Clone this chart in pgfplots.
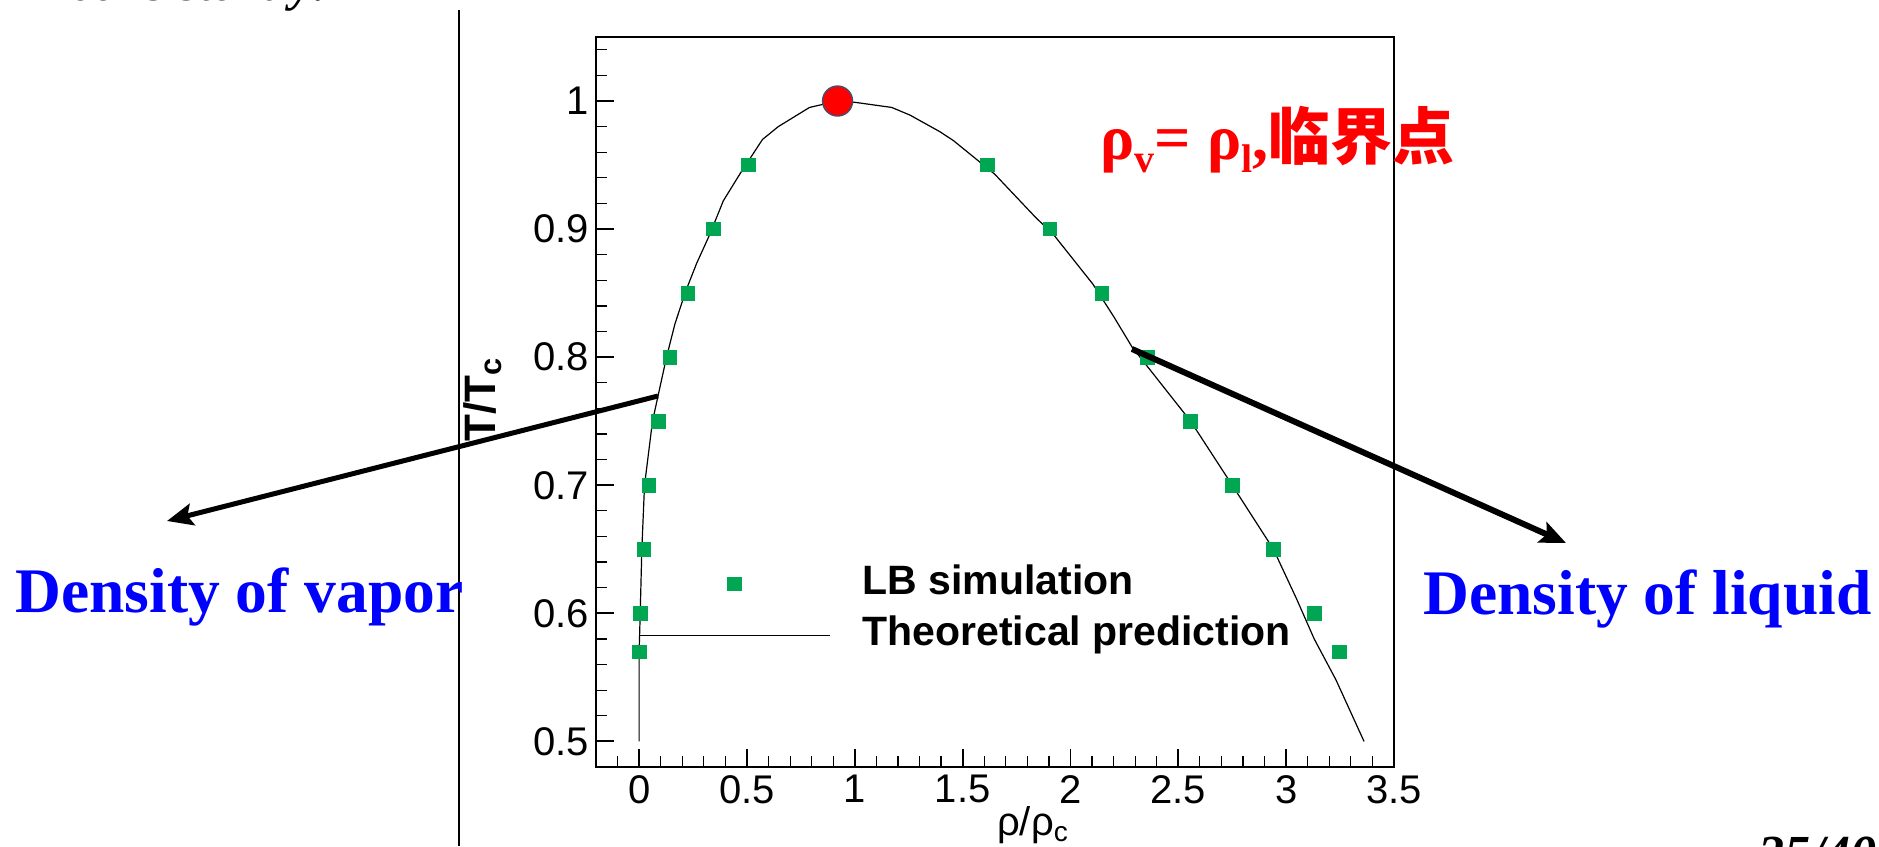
\documentclass[border=0pt]{standalone}
\usepackage{pgfplots}
\pgfplotsset{compat=1.18}
\usetikzlibrary{arrows.meta}
\usepackage{fontspec}
\setmainfont{Liberation Sans}
\newfontfamily\timesfont{Liberation Serif}
\newfontfamily\cjk{Noto Sans CJK SC}
\definecolor{lbgreen}{RGB}{0,166,81}
\definecolor{cpedge}{RGB}{70,80,110}
\pgfplotsset{
  lb legend/.style={legend image code/.code={\path[draw=none, fill=none] (0pt,0pt) -- (95.5pt,0pt); \draw[##1, only marks] plot coordinates {(47.75pt,0pt)};}},
  th legend/.style={legend image code/.code={\draw[##1] (0pt,0pt) -- (95.5pt,0pt);}},
}
\begin{document}
\begin{tikzpicture}
\useasboundingbox (0,0) rectangle (939.5pt,423pt);
\begin{scope}[overlay]
\clip (0,0) rectangle (939.5pt,423pt);
\begin{axis}[
    at={(298pt,39.5pt)}, anchor=south west,
    width=399pt, height=365pt, scale only axis,
    xmin=-0.2, xmax=3.5, ymin=0.48, ymax=1.05,
    axis line style={line width=1pt},
    tick align=inside, tick pos=left,
    xtick={0,0.5,1,1.5,2,2.5,3,3.5},
    ytick={0.5,0.6,0.7,0.8,0.9,1},
    minor xtick={-0.1,0.1,0.2,0.3,0.4,0.6,0.7,0.8,0.9,1.1,1.2,1.3,1.4,1.6,1.7,1.8,1.9,2.1,2.2,2.3,2.4,2.6,2.7,2.8,2.9,3.1,3.2,3.3,3.4},
    minor ytick={0.52,0.54,0.56,0.58,0.62,0.64,0.66,0.68,0.72,0.74,0.76,0.78,0.82,0.84,0.86,0.88,0.92,0.94,0.96,0.98,1.02,1.04},
    major tick length=9pt, minor tick length=5.5pt,
    every major tick/.append style={line width=0.9pt, black},
    every minor tick/.append style={line width=0.6pt, black},
    ticklabel style={font=\fontsize{20}{24}\selectfont},
    xticklabel style={inner sep=4pt},
    /pgf/number format/assume math mode=true,
    xlabel={ρ/ρ\textsubscript{c}},
    xlabel style={at={(axis description cs:0.5476,-0.080)}, anchor=center, font=\fontsize{20}{24}\selectfont},
    ylabel={T/T\textsubscript{c}},
    ylabel style={at={(axis description cs:-0.1416,0.503)}, anchor=center, font=\fontsize{22}{26}\selectfont\bfseries},
    legend cell align=left,
    legend style={at={(axis description cs:0.0526,0.2795)}, anchor=north west,
        draw=none, fill=none, inner sep=0pt, row sep=5.3pt, column sep=16pt,
        font=\fontsize{20.5}{24}\selectfont\bfseries,
        nodes={inner sep=0pt, text height=15.4pt, text depth=5.1pt}},
]
% LB simulation
\addplot[only marks, mark=square*, mark size=3.4pt, color=lbgreen, lb legend]
    coordinates {
    (0.0,0.57) (0.005,0.60) (0.022,0.65) (0.046,0.70) (0.09,0.75)
    (0.142,0.80) (0.227,0.85) (0.343,0.90) (0.506,0.95)
    (1.615,0.95) (1.905,0.90) (2.145,0.85) (2.356,0.80) (2.557,0.75)
    (2.75,0.70) (2.941,0.65) (3.13,0.60) (3.247,0.57)
};
\addlegendentry{LB simulation}
% theory
\addplot[black, line width=0.6pt, mark=none, th legend]
    coordinates {
    (0,0.50) (0.0,0.57) (0.005,0.60) (0.0125,0.65) (0.025,0.70) (0.062,0.75)
    (0.088,0.77) (0.127,0.80) (0.166,0.826) (0.217,0.852) (0.266,0.873)
    (0.328,0.896) (0.39,0.922) (0.467,0.943) (0.572,0.97) (0.645,0.98)
    (0.79,0.995) (0.92,1.0) (1.0,0.999) (1.171,0.995) (1.256,0.989)
    (1.395,0.976) (1.458,0.969) (1.648,0.943) (1.839,0.909) (1.92,0.896)
    (2.104,0.857) (2.203,0.831) (2.285,0.808) (2.557,0.75) (2.75,0.70)
    (2.941,0.65) (3.049,0.611) (3.13,0.58) (3.231,0.548) (3.361,0.50)
};
\addlegendentry{Theoretical prediction}
% critical point
\addplot[forget plot, only marks, mark=*, mark size=7.5pt,
    mark options={fill=red, draw=cpedge, line width=0.7pt}]
    coordinates {(0.92,1.0)};
\end{axis}
\begin{scope}[x=0.5pt, y=0.5pt]
\draw[line width=0.6pt] (459,836) -- (459,0);
\draw[line width=2.5pt, -{Stealth[length=13pt, width=11pt, inset=2.5pt]}] (658,450) -- (167,325);
\draw[line width=3pt, -{Stealth[length=13pt, width=11pt, inset=2.5pt]}] (1132,497) -- (1566,303);
\node[anchor=base west, inner sep=0pt, text=blue, font={\fontsize{31.75}{36}\timesfont\bfseries}] at (15,233) {Density of vapor};
\node[anchor=base west, inner sep=0pt, text=blue, font={\fontsize{31.75}{36}\timesfont\bfseries}] at (1423,231) {Density of liquid};
\node[anchor=base west, inner sep=0pt, text=red, font={\fontsize{32}{36}\timesfont\bfseries}] at (1100,686)
  {ρ\raisebox{-0.2em}{\fontsize{20}{20}\selectfont v}= ρ\raisebox{-0.2em}{\fontsize{20}{20}\selectfont l},{\fontsize{31}{36}\cjk\bfseries 临界点}};
\node[anchor=base east, inner sep=0pt, font={\fontsize{25}{30}\timesfont\bfseries\itshape}] at (330,845) {consistently:};
\node[anchor=base west, inner sep=0pt, font={\fontsize{26}{30}\timesfont\bfseries\itshape}] at (1758,-25) {25/40};
\end{scope}
\end{scope}
\end{tikzpicture}
\end{document}
